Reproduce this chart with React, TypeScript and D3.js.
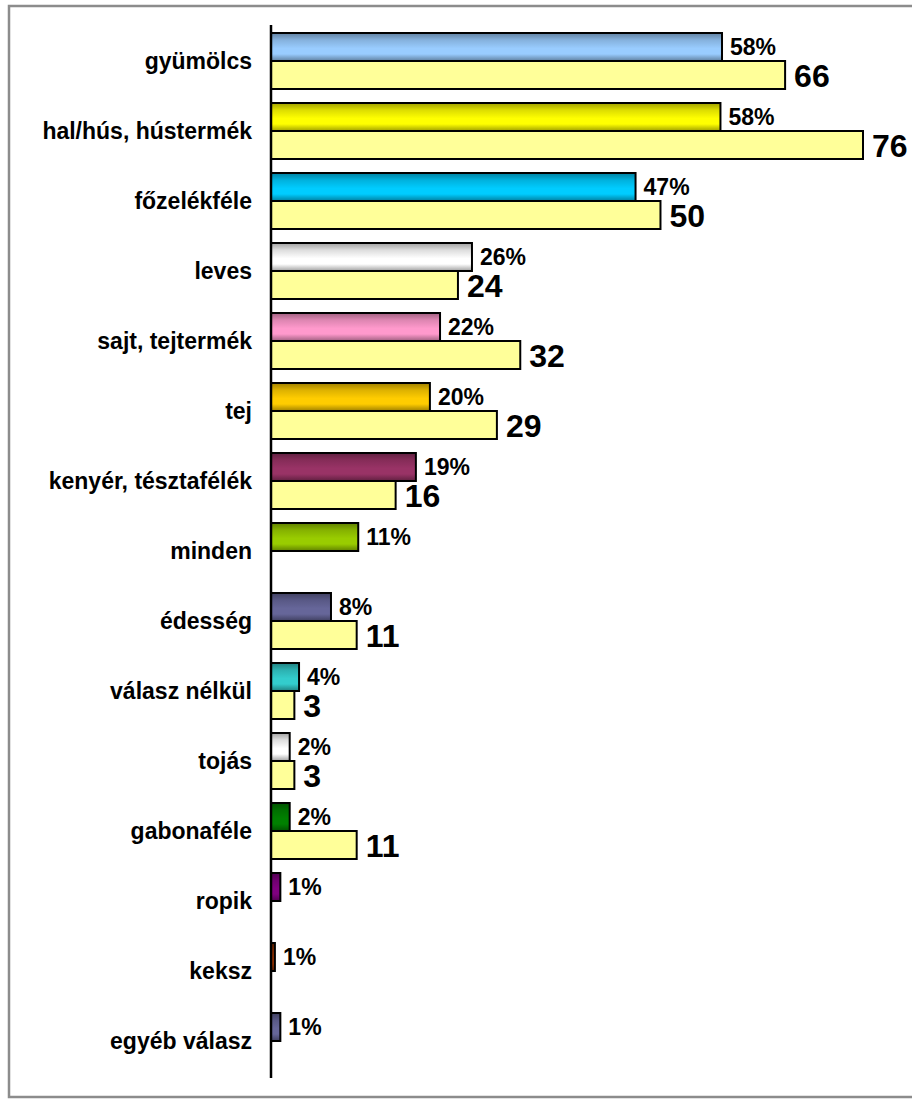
import React from "react";
import * as d3 from "d3";

const categories = [
  "gyümölcs",
  "hal/hús, hústermék",
  "főzelékféle",
  "leves",
  "sajt, tejtermék",
  "tej",
  "kenyér, tésztafélék",
  "minden",
  "édesség",
  "válasz nélkül",
  "tojás",
  "gabonaféle",
  "ropik",
  "keksz",
  "egyéb válasz",
];

const percentValues = [57.9, 57.7, 46.8, 25.8, 21.7, 20.4, 18.6, 11.2, 7.7, 3.6, 2.4, 2.4, 1.2, 0.5, 1.2];
const percentLabels = ["58%", "58%", "47%", "26%", "22%", "20%", "19%", "11%", "8%", "4%", "2%", "2%", "1%", "1%", "1%"];
const countValues: (number | null)[] = [66, 76, 50, 24, 32, 29, 16, null, 11, 3, 3, 11, null, null, null];

const barColors = [
  "#99CCFF",
  "#FFFF00",
  "#00CCFF",
  "#FFFFFF",
  "#FF99CC",
  "#FFCC00",
  "#993366",
  "#99CC00",
  "#666699",
  "#33CCCC",
  "#FFFFFF",
  "#008000",
  "#800080",
  "#993300",
  "#666699",
];

const W = 912;
const H = 1099;
const X0 = 271;

export default function App() {
  const x = d3.scaleLinear().domain([0, 76]).range([X0, 863]);
  const y = d3
    .scaleBand<string>()
    .domain(categories)
    .range([26, 1076])
    .paddingInner(0.2)
    .paddingOuter(0.1);
  const bw = y.bandwidth();
  const half = bw / 2;
  const font = "Arial, 'Liberation Sans', Helvetica, sans-serif";

  return (
    <svg
      width={W}
      height={H}
      style={{ position: "absolute", left: 0, top: 0, background: "#fff" }}
      fontFamily={font}
    >
      <defs>
        {barColors.map((c, i) => {
          const base = d3.color(c)!;
          const dark = d3.rgb(base).darker(1.3).formatHex();
          const mid = d3.rgb(base).darker(0.4).formatHex();
          return (
            <linearGradient key={i} id={`g${i}`} x1="0" y1="0" x2="0" y2="1">
              <stop offset="0%" stopColor={dark} />
              <stop offset="25%" stopColor={mid} />
              <stop offset="55%" stopColor={c} />
              <stop offset="75%" stopColor={c} />
              <stop offset="100%" stopColor={dark} />
            </linearGradient>
          );
        })}
      </defs>
      <rect x={9} y={6} width={W + 10} height={1091} fill="#fff" stroke="#8c8c8c" strokeWidth={2.5} />
      {categories.map((cat, i) => {
        const y0 = y(cat)!;
        const pv = percentValues[i];
        const cv = countValues[i];
        return (
          <g key={cat}>
            <text
              x={252}
              y={y0 + half}
              textAnchor="end"
              dominantBaseline="central"
              fontSize={23}
              fontWeight="bold"
              fill="#000"
            >
              {cat}
            </text>
            <rect
              x={x(0)}
              y={y0}
              width={x(pv) - x(0)}
              height={half}
              fill={`url(#g${i})`}
              stroke="#000"
              strokeWidth={2}
            />
            <text
              x={x(pv) + 8}
              y={y0 + half / 2}
              dominantBaseline="central"
              fontSize={23}
              fontWeight="bold"
              fill="#000"
            >
              {percentLabels[i]}
            </text>
            {cv !== null && (
              <>
                <rect
                  x={x(0)}
                  y={y0 + half}
                  width={x(cv) - x(0)}
                  height={half}
                  fill="#FFFF99"
                  stroke="#000"
                  strokeWidth={2}
                />
                <text
                  x={x(cv) + 9}
                  y={y0 + half + half / 2 + 1}
                  dominantBaseline="central"
                  fontSize={32}
                  fontWeight="bold"
                  fill="#000"
                >
                  {cv}
                </text>
              </>
            )}
          </g>
        );
      })}
      <line x1={X0} x2={X0} y1={25} y2={1078} stroke="#000" strokeWidth={2.5} />
    </svg>
  );
}
